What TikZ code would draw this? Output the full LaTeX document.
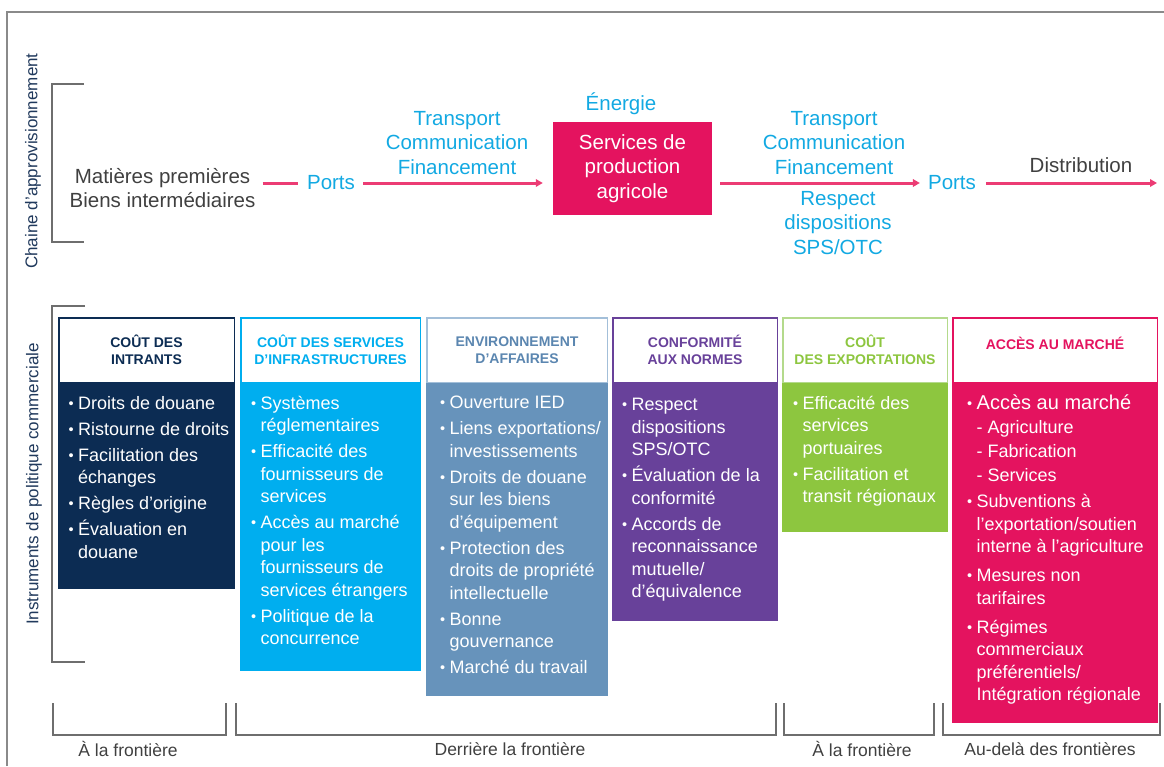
\documentclass[tikz,border=0pt]{standalone}
\usepackage{fontspec}
\setmainfont{Liberation Sans}
\usetikzlibrary{arrows.meta}

\definecolor{colnavy}{HTML}{0C2C53}
\definecolor{colcyan}{HTML}{00AEEF}
\definecolor{colsteel}{HTML}{6793BB}
\definecolor{colsteelline}{HTML}{A3BFD9}
\definecolor{colsteeltext}{HTML}{5B86B0}
\definecolor{colpurple}{HTML}{68419A}
\definecolor{colgreen}{HTML}{8DC63F}
\definecolor{colgreenline}{HTML}{B4DA8C}
\definecolor{colmagenta}{HTML}{E4135F}
\definecolor{colpink}{HTML}{EC3C74}
\definecolor{coltextblue}{HTML}{12A9E2}
\definecolor{coltextgray}{HTML}{404040}
\definecolor{colbracket}{HTML}{6E6E6E}
\definecolor{colframe}{HTML}{8A8A8A}
\definecolor{collabel}{HTML}{20395C}

\newcommand{\pbul}{\makebox[9.5pt][l]{\raisebox{1pt}{\fontsize{14.5}{14.5}\selectfont •}}}
\newcommand{\pind}{\hspace*{9.5pt}}

\tikzset{
  flowline/.style={colpink, line width=3pt},
  flowarrow/.style={flowline, -{Triangle[length=7pt,width=7.5pt]}},
  chaintext/.style={font=\fontsize{20.5}{24.5}\selectfont, align=center, inner sep=0pt},
  prodbox/.style={chaintext, fill=colmagenta, text=white, minimum width=159pt, minimum height=93pt},
  headbox/.style={line width=1.5pt, fill=white, minimum height=64.5pt, align=center, inner sep=0pt, font=\bfseries\fontsize{14}{17}\selectfont},
  bodybox/.style={inner sep=0pt, anchor=north, minimum height=#1},
  bodytext/.style={anchor=north west, align=left, inner sep=0pt, text=white, font=\fontsize{18}{22.5}\selectfont},
  brace/.style={colbracket, line width=2pt},
  zonetext/.style={coltextgray, font=\fontsize{17.5}{20}\selectfont, inner sep=0pt},
  sidetext/.style={rotate=90, collabel, font=\fontsize{17}{20}\selectfont, inner sep=0pt}
}

\begin{document}
\begin{tikzpicture}[x=1pt, y=-1pt]
  \useasboundingbox (0,0) rectangle (1164,766);
  \draw[colframe, line width=1.5pt] (7,766) -- (7,12) -- (1164,12);

  % side labels and brackets
  \node[sidetext] (chainlabel) at (33,161) {Chaine d'approvisionnement};
  \node[sidetext] (policylabel) at (34,484) {Instruments de politique commerciale};
  \draw[brace] (84,84) -- (52,84) -- (52,242) -- (84,242);
  \draw[brace] (85,306) -- (52,306) -- (52,662) -- (85,662);

  % supply chain
  \node[chaintext, coltextgray] (raw) at (162.5,188) {Matières premières\\Biens intermédiaires};
  \node[chaintext, coltextblue] (ports1) at (331,183) {Ports};
  \node[chaintext, coltextblue] (inflow) at (457,143) {Transport\\Communication\\Financement};
  \node[chaintext, coltextblue] (energy) at (621,104) {Énergie};
  \node[prodbox] (prod) at (632.5,168.5) {Services de\\production\\agricole};
  \node[chaintext, coltextblue] (outflow) at (834,143) {Transport\\Communication\\Financement};
  \node[chaintext, coltextblue] (norms) at (838,223) {Respect\\dispositions\\SPS/OTC};
  \node[chaintext, coltextblue] (ports2) at (952,183) {Ports};
  \node[chaintext, coltextgray] (distrib) at (1081,165) {Distribution};
  \coordinate (chainend) at (1157,183);

  \draw[flowline, shorten <=7pt, shorten >=9pt] (raw.east |- ports1.west) -- (ports1.west);
  \draw[flowarrow, shorten <=8pt, shorten >=10pt] (ports1.east) -- (ports1.east -| prod.west);
  \draw[flowarrow, shorten <=8pt, shorten >=8pt] (prod.east |- ports2.west) -- (ports2.west);
  \draw[flowarrow, shorten <=10pt] (ports2.east) -- (chainend);

  % policy columns
  \node[headbox, draw=colnavy, text=colnavy, minimum width=175.5pt] (h1) at (146.5,350) {COÛT DES\\INTRANTS};
  \node[bodybox=206pt, fill=colnavy, minimum width=177pt] (b1) at (146.5,383) {};
  \node[bodytext] (t1) at (68.5,396) {\pbul Droits de douane\\[3.5pt]
    \pbul Ristourne de droits\\[3.5pt]
    \pbul Facilitation des\\ \pind échanges\\[3.5pt]
    \pbul Règles d’origine\\[3.5pt]
    \pbul Évaluation en\\ \pind douane};

  \node[headbox, draw=colcyan, text=colcyan, minimum width=179.5pt] (h2) at (330.5,350) {COÛT DES SERVICES\\D’INFRASTRUCTURES};
  \node[bodybox=288pt, fill=colcyan, minimum width=181pt] (b2) at (330.5,383) {};
  \node[bodytext] (t2) at (251,396) {\pbul Systèmes\\ \pind réglementaires\\[3.5pt]
    \pbul Efficacité des\\ \pind fournisseurs de\\ \pind services\\[3.5pt]
    \pbul Accès au marché\\ \pind pour les\\ \pind fournisseurs de\\ \pind services étrangers\\[3.5pt]
    \pbul Politique de la\\ \pind concurrence};

  \node[headbox, draw=colsteelline, text=colsteeltext, minimum width=180.5pt] (h3) at (517,350) {ENVIRONNEMENT\\D’AFFAIRES};
  \node[bodybox=313pt, fill=colsteel, minimum width=182pt] (b3) at (517,383) {};
  \node[bodytext] (t3) at (440,396) {\pbul Ouverture IED\\[3.5pt]
    \pbul Liens exportations/\\ \pind investissements\\[3.5pt]
    \pbul Droits de douane\\ \pind sur les biens\\ \pind d’équipement\\[3.5pt]
    \pbul Protection des\\ \pind droits de propriété\\ \pind intellectuelle\\[3.5pt]
    \pbul Bonne\\ \pind gouvernance\\[3.5pt]
    \pbul Marché du travail};

  \node[headbox, draw=colpurple, text=colpurple, minimum width=164.5pt] (h4) at (695,350) {CONFORMITÉ\\AUX NORMES};
  \node[bodybox=238pt, fill=colpurple, minimum width=166pt] (b4) at (695,383) {};
  \node[bodytext] (t4) at (622,398) {\pbul Respect\\ \pind dispositions\\ \pind SPS/OTC\\[3.5pt]
    \pbul Évaluation de la\\ \pind conformité\\[3.5pt]
    \pbul Accords de\\ \pind reconnaissance\\ \pind mutuelle/\\ \pind d’équivalence};

  \node[headbox, draw=colgreenline, text=colgreen, minimum width=164.5pt] (h5) at (865,350) {COÛT\\DES EXPORTATIONS};
  \node[bodybox=149pt, fill=colgreen, minimum width=166pt] (b5) at (865,383) {};
  \node[bodytext] (t5) at (793,396) {\pbul Efficacité des\\ \pind services\\ \pind portuaires\\[3.5pt]
    \pbul Facilitation et\\ \pind transit régionaux};

  \node[headbox, draw=colmagenta, text=colmagenta, minimum width=204.5pt, text depth=13pt] (h6) at (1055,350) {ACCÈS AU MARCHÉ};
  \node[bodybox=340pt, fill=colmagenta, minimum width=206pt] (b6) at (1055,383) {};
  \node[bodytext] (t6) at (967,395) {{\fontsize{20}{22.5}\selectfont\pbul Accès au marché}\\[1.5pt]
    \pind - Agriculture\\[1.5pt]
    \pind - Fabrication\\[1.5pt]
    \pind - Services\\[3.5pt]
    \pbul Subventions à\\ \pind l’exportation/soutien\\ \pind interne à l’agriculture\\[6.5pt]
    \pbul Mesures non\\ \pind tarifaires\\[6.5pt]
    \pbul Régimes\\ \pind commerciaux\\ \pind préférentiels/\\ \pind Intégration régionale};

  % border zones
  \draw[brace] (53,703) -- (53,735) -- (226,735) -- (226,703);
  \draw[brace] (236,703) -- (236,735) -- (776,735) -- (776,703);
  \draw[brace] (784,703) -- (784,735) -- (934,735) -- (934,703);
  \draw[brace] (943,703) -- (943,735) -- (1160,735) -- (1160,703);
  \node[zonetext] (zone1) at (128,749) {À la frontière};
  \node[zonetext] (zone2) at (510,749) {Derrière la frontière};
  \node[zonetext] (zone3) at (862,749) {À la frontière};
  \node[zonetext] (zone4) at (1050,749) {Au-delà des frontières};
\end{tikzpicture}
\end{document}
